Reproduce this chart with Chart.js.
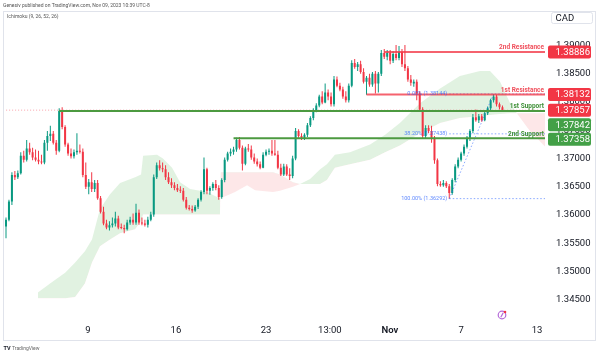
<!DOCTYPE html>
<html><head><meta charset="utf-8">
<script src="https://cdn.jsdelivr.net/npm/chart.js@4.4.0/dist/chart.umd.min.js"></script>
<style>html,body{margin:0;padding:0;background:#fff;}canvas{display:block}</style>
</head><body>
<canvas id="c" width="600" height="355"></canvas>
<script>
// ---- DATA (USDCAD 4h) ----
const candleOpen = [
1.3580,1.3592,1.3624,1.3671,1.3667,1.3674,1.3705,1.3698,1.3718,1.3711,
1.3702,1.3698,1.3695,1.3693,1.3728,1.3740,1.3744,1.3728,1.3714,1.3784,
1.3756,1.3725,1.3709,1.3704,1.3711,1.3714,1.3712,1.3671,1.3650,1.3658,
1.3646,1.3657,1.3630,1.3606,1.3585,1.3578,1.3582,1.3585,1.3594,1.3578,
1.3577,1.3575,1.3587,1.3592,1.3587,1.3604,1.3587,1.3585,1.3583,1.3592,
1.3601,1.3667,1.3688,1.3683,1.3681,1.3667,1.3658,1.3653,1.3648,1.3644,
1.3643,1.3627,1.3613,1.3611,1.3608,1.3615,1.3627,1.3641,1.3681,1.3643,
1.3648,1.3655,1.3648,1.3632,1.3662,1.3698,1.3709,1.3712,1.3716,1.3733,
1.3719,1.3691,1.3718,1.3716,1.3702,1.3695,1.3690,1.3684,1.3707,1.3712,
1.3714,1.3709,1.3707,1.3684,1.3672,1.3686,1.3672,1.3669,1.3700,1.3749,
1.3740,1.3737,1.3742,1.3759,1.3772,1.3786,1.3794,1.3810,1.3799,1.3817,
1.3810,1.3796,1.3840,1.3829,1.3822,1.3810,1.3803,1.3829,1.3869,1.3862,
1.3867,1.3853,1.3836,1.3843,1.3831,1.3850,1.3833,1.3850,1.3887,1.3880,
1.3887,1.3873,1.3885,1.3878,1.3888,1.3867,1.3860,1.3840,1.3833,1.3836,
1.3815,1.3787,1.3740,1.3754,1.3749,1.3737,1.3697,1.3655,1.3653,1.3657,
1.3651,1.3639,1.3662,1.3686,1.3698,1.3709,1.3721,1.3737,1.3749,1.3773,
1.3768,1.3775,1.3768,1.3780,1.3789,1.3803,1.3810,1.3796,1.3791];
const candleHigh = [
1.3596,1.3627,1.3676,1.3678,1.3679,1.3711,1.3714,1.3733,1.3728,1.3719,
1.3716,1.3714,1.3707,1.3733,1.3749,1.3758,1.3749,1.3733,1.3789,1.3791,
1.3759,1.3728,1.3718,1.3716,1.3745,1.3725,1.3718,1.3693,1.3664,1.3676,
1.3662,1.3662,1.3634,1.3615,1.3592,1.3589,1.3596,1.3606,1.3599,1.3585,
1.3583,1.3592,1.3597,1.3603,1.3620,1.3610,1.3596,1.3592,1.3597,1.3606,
1.3672,1.3693,1.3697,1.3693,1.3688,1.3676,1.3665,1.3658,1.3655,1.3651,
1.3648,1.3632,1.3618,1.3617,1.3618,1.3630,1.3644,1.3702,1.3684,1.3651,
1.3658,1.3662,1.3653,1.3665,1.3702,1.3712,1.3718,1.3721,1.3737,1.3738,
1.3723,1.3721,1.3726,1.3723,1.3709,1.3700,1.3695,1.3711,1.3716,1.3718,
1.3733,1.3733,1.3714,1.3691,1.3691,1.3690,1.3683,1.3705,1.3754,1.3752,
1.3745,1.3745,1.3763,1.3775,1.3789,1.3798,1.3813,1.3819,1.3833,1.3822,
1.3817,1.3846,1.3845,1.3834,1.3827,1.3819,1.3833,1.3874,1.3876,1.3871,
1.3873,1.3860,1.3846,1.3850,1.3853,1.3855,1.3853,1.3892,1.3894,1.3892,
1.3892,1.3890,1.3901,1.3899,1.3894,1.3901,1.3864,1.3848,1.3840,1.3840,
1.3819,1.3791,1.3759,1.3759,1.3758,1.3740,1.3700,1.3660,1.3662,1.3660,
1.3655,1.3665,1.3690,1.3702,1.3712,1.3725,1.3740,1.3752,1.3779,1.3787,
1.3779,1.3779,1.3784,1.3792,1.3806,1.3814,1.3813,1.3799,1.3794];
const candleLow = [
1.3559,1.3589,1.3618,1.3662,1.3664,1.3672,1.3693,1.3695,1.3707,1.3697,
1.3695,1.3690,1.3690,1.3690,1.3714,1.3731,1.3725,1.3707,1.3711,1.3752,
1.3721,1.3705,1.3700,1.3700,1.3707,1.3709,1.3667,1.3646,1.3637,1.3641,
1.3641,1.3627,1.3603,1.3582,1.3575,1.3573,1.3578,1.3580,1.3575,1.3575,
1.3568,1.3573,1.3583,1.3583,1.3583,1.3583,1.3582,1.3580,1.3578,1.3589,
1.3597,1.3664,1.3679,1.3676,1.3662,1.3655,1.3648,1.3644,1.3641,1.3639,
1.3624,1.3610,1.3608,1.3604,1.3606,1.3611,1.3624,1.3637,1.3637,1.3636,
1.3643,1.3644,1.3627,1.3629,1.3658,1.3695,1.3704,1.3707,1.3712,1.3716,
1.3679,1.3688,1.3712,1.3698,1.3691,1.3686,1.3681,1.3683,1.3704,1.3707,
1.3705,1.3705,1.3681,1.3669,1.3669,1.3669,1.3662,1.3665,1.3697,1.3737,
1.3733,1.3733,1.3738,1.3756,1.3768,1.3782,1.3791,1.3796,1.3798,1.3803,
1.3792,1.3792,1.3826,1.3819,1.3806,1.3799,1.3799,1.3826,1.3859,1.3855,
1.3850,1.3833,1.3813,1.3827,1.3827,1.3815,1.3817,1.3846,1.3876,1.3874,
1.3867,1.3869,1.3874,1.3874,1.3862,1.3855,1.3836,1.3829,1.3827,1.3803,
1.3784,1.3735,1.3735,1.3745,1.3728,1.3691,1.3651,1.3650,1.3650,1.3648,
1.3629,1.3636,1.3658,1.3683,1.3695,1.3705,1.3718,1.3731,1.3745,1.3765,
1.3763,1.3765,1.3766,1.3777,1.3786,1.3799,1.3792,1.3787,1.3784];
const candleClose = [
1.3592,1.3624,1.3671,1.3667,1.3674,1.3705,1.3698,1.3718,1.3711,1.3702,
1.3698,1.3695,1.3693,1.3728,1.3740,1.3744,1.3728,1.3714,1.3784,1.3756,
1.3725,1.3709,1.3704,1.3711,1.3714,1.3712,1.3671,1.3650,1.3658,1.3646,
1.3657,1.3630,1.3606,1.3585,1.3578,1.3582,1.3585,1.3594,1.3578,1.3577,
1.3575,1.3587,1.3592,1.3587,1.3604,1.3587,1.3585,1.3583,1.3592,1.3601,
1.3667,1.3688,1.3683,1.3681,1.3667,1.3658,1.3653,1.3648,1.3644,1.3643,
1.3627,1.3613,1.3611,1.3608,1.3615,1.3627,1.3641,1.3681,1.3643,1.3648,
1.3655,1.3648,1.3632,1.3662,1.3698,1.3709,1.3712,1.3716,1.3733,1.3719,
1.3691,1.3718,1.3716,1.3702,1.3695,1.3690,1.3684,1.3707,1.3712,1.3714,
1.3709,1.3707,1.3684,1.3672,1.3686,1.3672,1.3669,1.3700,1.3749,1.3740,
1.3737,1.3742,1.3759,1.3772,1.3786,1.3794,1.3810,1.3799,1.3817,1.3810,
1.3796,1.3840,1.3829,1.3822,1.3810,1.3803,1.3829,1.3869,1.3862,1.3867,
1.3853,1.3836,1.3843,1.3831,1.3850,1.3833,1.3850,1.3887,1.3880,1.3887,
1.3873,1.3885,1.3878,1.3888,1.3867,1.3860,1.3840,1.3834,1.3836,1.3815,
1.3787,1.3740,1.3754,1.3749,1.3737,1.3697,1.3655,1.3653,1.3657,1.3651,
1.3639,1.3662,1.3686,1.3698,1.3709,1.3721,1.3737,1.3749,1.3773,1.3768,
1.3775,1.3768,1.3780,1.3789,1.3803,1.3810,1.3796,1.3791,1.3786];

// Ichimoku cloud (leading spans, bar-index positions incl. 26-bar forward shift)
const cloudX = [10.8,14.9,20,23.4,26.7,29.1,31.8,35.2,38.6,43.7,45.7,46.4,51.1,53.1,56.2,58.9,62.3,68,71.4,72.4,
72.7,77.5,81.6,84.3,90.4,92.7,97.1,99.5,102.9,106.3,108.6,111.3,116.4,123.2,128.3,133.3,140.1,146.9,153.6,160.4,
163.8,167.2,170.6,173.3,177.3,183.4];
const spanA = [1.3463,1.3479,1.3498,1.3516,1.3536,1.3557,1.3611,1.3637,1.3657,1.3667,1.3672,1.3705,1.3707,1.3700,1.3684,1.3658,1.3646,1.3641,1.3632,1.3630,
1.3630,1.3641,1.3653,1.3644,1.3641,1.3643,1.3650,1.3655,1.3664,1.3681,1.3690,1.3707,1.3711,1.3725,1.3742,1.3763,1.3798,1.3824,1.3846,1.3855,
1.3855,1.3836,1.3798,1.3777,1.3749,1.3716];
const spanB = [1.3453,1.3453,1.3453,1.3455,1.3479,1.3516,1.3545,1.3557,1.3568,1.3575,1.3589,1.3601,1.3601,1.3601,1.3601,1.3601,1.3601,1.3601,1.3601,1.3601,
1.3676,1.3676,1.3676,1.3676,1.3676,1.3672,1.3658,1.3655,1.3655,1.3655,1.3662,1.3684,1.3690,1.3698,1.3711,1.3723,1.3745,1.3763,1.3772,1.3775,
1.3777,1.3779,1.3780,1.3780,1.3780,1.3780];

const currentPrice = 1.37857;
const levelNames  = ['2nd Resistance','1st Resistance','1st Support','2nd Support'];
const levelValues = [1.38886, 1.38132, 1.37842, 1.37358];
const levelStart  = [128, 122, 18, 77];
const fibPercents = ['0.00%','38.20%','100.00%'];
const fibValues   = [1.38144, 1.37438, 1.36292];
const fibStart = 150, fibEnd = 165;

const priceTicks = [1.345,1.350,1.355,1.360,1.365,1.370,1.375,1.380,1.385,1.390];
const timeTickPos = [27.7, 57.5, 88.0, 109.6, 129.9, 154.0, 179.7];
const timeTickLabels = ['9','16','23','13:00','Nov','7','13'];

// ---- STYLE ----
const UP = '#089981', DOWN = '#f23645';
const RES_LINE = 'rgba(242,54,69,0.78)', RES_TXT = '#f0505c', RES_BOX = '#f23645';
const SUP_LINE = '#4c9a40', SUP_TXT = '#3f8f37', SUP_BOX = '#43a047';
const FIB = 'rgba(41,98,255,0.55)';
const FONT = 'Roboto, "Liberation Sans", Arial, sans-serif';
Chart.defaults.font.family = FONT;

const candleColor = ctx => candleClose[ctx.dataIndex] >= candleOpen[ctx.dataIndex] ? UP : DOWN;
const X_END = 190;

const datasets = [
  { type:'line', data: cloudX.map((x,k)=>({x, y: spanB[k]})), borderColor:'transparent', borderWidth:0, pointRadius:0, fill:false, order:20 },
  { type:'line', data: cloudX.map((x,k)=>({x, y: spanA[k]})), borderColor:'transparent', borderWidth:0, pointRadius:0,
    fill:{target:0, above:'rgba(76,175,80,0.17)', below:'rgba(242,54,69,0.12)'}, order:19 },
  { type:'line', data:[{x:-2,y:currentPrice},{x:X_END,y:currentPrice}], borderColor:'rgba(242,54,69,0.45)', borderWidth:1, borderDash:[1,2], pointRadius:0, order:18 },
  { type:'bar', data: candleLow.map((l,i)=>({x:i, y:[l, candleHigh[i]]})), backgroundColor: candleColor, grouped:false, maxBarThickness:1, order:5 },
  { type:'bar', data: candleOpen.map((o,i)=>({x:i, y:[o, candleClose[i]]})), backgroundColor: candleColor, grouped:false, maxBarThickness:2, minBarLength:1, order:4 },
];
fibValues.forEach(v => datasets.push({ type:'line', data:[{x:fibStart,y:v},{x:X_END,y:v}], borderColor:FIB, borderWidth:1, borderDash:[1.5,2], pointRadius:0, order:2 }));
datasets.push({ type:'line', data:[{x:fibStart,y:fibValues[2]},{x:fibEnd,y:fibValues[0]}], borderColor:FIB, borderWidth:1, borderDash:[1.5,2], pointRadius:0, order:2 });
levelValues.forEach((v,k) => datasets.push({ type:'line', data:[{x:levelStart[k],y:v},{x:X_END,y:v}], borderColor: k<2 ? RES_LINE : SUP_LINE, borderWidth:2, pointRadius:0, order:1 }));

const overlay = {
  id:'overlay',
  afterDatasetsDraw(chart){
    const {ctx, chartArea:ca, scales:{x, y}} = chart;
    ctx.save();
    ctx.beginPath(); ctx.rect(ca.left, ca.top, ca.right-ca.left, ca.bottom-ca.top); ctx.clip();
    ctx.font = 'bold 6.5px ' + FONT; ctx.textAlign = 'right'; ctx.textBaseline = 'alphabetic';
    levelNames.forEach((n,k) => { ctx.fillStyle = k<2 ? RES_TXT : SUP_TXT; ctx.fillText(n, ca.right-1, y.getPixelForValue(levelValues[k]) - 2.5); });
    ctx.font = '5.5px ' + FONT; ctx.textBaseline = 'middle'; ctx.fillStyle = 'rgba(41,98,255,0.75)';
    fibPercents.forEach((p,k) => ctx.fillText(p + ' (' + fibValues[k].toFixed(5) + ')', x.getPixelForValue(fibStart) - 2, y.getPixelForValue(fibValues[k])));
    ctx.restore();
  },
  afterDraw(chart){
    const {ctx, scales:{y}} = chart;
    ctx.save();
    // price-axis labels
    const boxes = [
      {v:levelValues[0], c:RES_BOX}, {v:levelValues[1], c:RES_BOX}, {v:currentPrice, c:DOWN},
      {v:levelValues[2], c:SUP_BOX}, {v:levelValues[3], c:SUP_BOX}
    ].map(b => ({...b, py: y.getPixelForValue(b.v)})).sort((a,b) => a.py - b.py);
    for (let k=1; k<boxes.length; k++) if (boxes[k].py < boxes[k-1].py + 14.5) boxes[k].py = boxes[k-1].py + 14.5;
    ctx.font = '9.5px ' + FONT; ctx.textAlign = 'left'; ctx.textBaseline = 'middle';
    boxes.forEach(b => {
      ctx.fillStyle = b.c; ctx.beginPath(); ctx.roundRect(548, b.py-6.5, 43, 13, 2); ctx.fill();
      ctx.fillStyle = '#ffffff'; ctx.fillText(b.v.toFixed(5), 555.5, b.py + 0.5);
    });
    // CAD
    ctx.fillStyle = '#ffffff'; ctx.strokeStyle = '#e0e3eb'; ctx.lineWidth = 1;
    ctx.beginPath(); ctx.roundRect(551.5, 12.5, 41, 11, 2); ctx.fill(); ctx.stroke();
    ctx.fillStyle = '#131722'; ctx.fillText('CAD', 555.5, 18.5);
    // frame
    ctx.strokeStyle = '#e0e3eb'; ctx.strokeRect(3.5, 11.5, 592, 329);
    // header texts
    ctx.fillStyle = '#555'; ctx.font = '5px ' + FONT; ctx.textBaseline = 'middle';
    ctx.fillText('Genesiv published on TradingView.com, Nov 09, 2023 10:39 UTC-8', 3, 6);
    ctx.fillText('Ichimoku (9, 26, 52, 26)', 7, 17);
    // footer logo
    ctx.fillStyle = '#131722'; ctx.font = 'bold 5.5px ' + FONT; ctx.fillText('TV', 3.5, 349);
    ctx.fillStyle = '#666'; ctx.font = '5px ' + FONT; ctx.fillText('TradingView', 12, 349);
    // event marker
    ctx.strokeStyle = '#b46ad8'; ctx.lineWidth = 1.2;
    ctx.beginPath(); ctx.arc(502, 315, 3.8, 0, Math.PI*2); ctx.stroke();
    ctx.beginPath(); ctx.moveTo(503.2, 312.8); ctx.lineTo(500.8, 317.2); ctx.stroke();
    ctx.fillStyle = '#f23645'; ctx.beginPath(); ctx.arc(505, 312, 1.3, 0, Math.PI*2); ctx.fill();
    ctx.restore();
  }
};

new Chart(document.getElementById('c'), {
  type:'line',
  data:{ datasets },
  options:{
    responsive:false, animation:false, devicePixelRatio:1, events:[],
    layout:{ padding:{ left:5, top:12, right:5, bottom:15 } },
    plugins:{ legend:{display:false}, tooltip:{enabled:false} },
    scales:{
      x:{ type:'linear', min:-0.34, max:182.4, offset:false,
        grid:{display:false, drawTicks:false}, border:{display:false},
        afterFit: s => { s.height = 22; },
        afterBuildTicks: s => { s.ticks = timeTickPos.map(v => ({value:v})); },
        ticks:{ autoSkip:false, maxRotation:0, padding:7, color:'#131722',
          font: c => ({ size:9.5, weight: c.index === 4 ? '600' : 'normal' }),
          callback: v => { const k = timeTickPos.indexOf(v); return k >= 0 ? timeTickLabels[k] : ''; } } },
      y:{ type:'linear', position:'right', min:1.3418, max:1.3951,
        grid:{display:false, drawTicks:false}, border:{display:false},
        afterFit: s => { s.width = 50; },
        afterBuildTicks: s => { s.ticks = priceTicks.map(v => ({value:v})); },
        ticks:{ padding:11, color:'#131722', font:{size:9.5}, callback: v => v.toFixed(5) } }
    }
  },
  plugins:[overlay]
});
</script>
</body></html>
